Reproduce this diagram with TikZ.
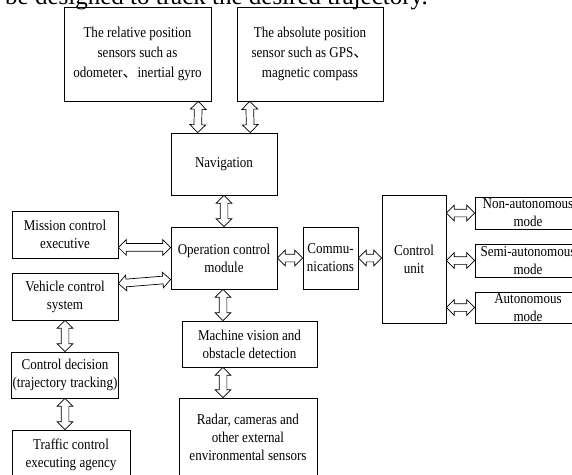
\documentclass[tikz,border=0pt]{standalone}
\usepackage{fontspec}
\setmainfont{Liberation Serif}[FakeStretch=0.87]
\newfontfamily\bodyfont{Liberation Serif}
\newfontfamily\cjk{Noto Sans CJK SC}
\usetikzlibrary{shapes.arrows,calc}

\newcommand{\biarrow}[2]{%
 \path let \p1=(#1), \p2=(#2), \n1={atan2(\y2-\y1,\x2-\x1)}, \n2={veclen(\x2-\x1,\y2-\y1)} in
  node[twoway, minimum height=\n2, rotate=\n1] at ($(\p1)!.5!(\p2)$) {};}

\begin{document}
\begin{tikzpicture}[x=1pt,y=-1pt,
  blk/.style={draw, line width=.8pt, align=center, inner sep=1pt,
    font=\fontsize{15}{18}\selectfont},
  twoway/.style={double arrow, draw, line width=.7pt, fill=white, inner sep=0pt,
    inner ysep=3.5pt, double arrow head extend=4pt, double arrow tip angle=90}]
 \useasboundingbox (0,0) rectangle (572,474);
 \node[anchor=base west, inner sep=0pt, font=\bodyfont\fontsize{25}{30}\selectfont] (cap) at (5,4.5)
  {be designed to track the desired trajectory.};

 \node[blk, minimum width=147, minimum height=94, font=\fontsize{15}{20}\selectfont] (rel) at (137.5,54)
  {The relative position\\sensors such as\\odometer{\cjk 、}inertial gyro};
 \node[blk, minimum width=146, minimum height=94, font=\fontsize{15}{20}\selectfont] (abs) at (310,54)
  {The absolute position\\sensor such as GPS{\cjk 、}\\magnetic compass};
 \node[blk, minimum width=106, minimum height=62] (nav) at (224,164) {Navigation};
 \node[blk, minimum width=106, minimum height=62] (ocm) at (224,258) {Operation control\\module};
 \node[blk, minimum width=106, minimum height=47] (mce) at (65,234.5) {Mission control\\executive};
 \node[blk, minimum width=106, minimum height=47] (vcs) at (65,296.5) {Vehicle control\\system};
 \node[blk, minimum width=106, minimum height=46] (cdt) at (65,375) {Control decision\\(trajectory tracking)};
 \node[blk, minimum width=118, minimum height=50] (tce) at (71,455) {Traffic control\\executing agency};
 \node[blk, minimum width=135, minimum height=46] (mvd) at (249.5,344) {Machine vision and\\obstacle detection};
 \node[blk, minimum width=138, minimum height=78] (rad) at (248,437)
  {Radar, cameras and\\other external\\environmental sensors};
 \node[blk, minimum width=55, minimum height=62] (com) at (330.5,258) {Commu-\\nications};
 \node[blk, minimum width=64, minimum height=128] (cu) at (414,259) {Control\\unit};
 \node[blk, minimum width=106, minimum height=32] (nam) at (528,213) {Non-autonomous\\mode};
 \node[blk, minimum width=106, minimum height=33] (sam) at (528,260.5) {Semi-autonomous\\mode};
 \node[blk, minimum width=106, minimum height=31] (aum) at (528,307.5) {Autonomous\\mode};

 \biarrow{$(rel.south east)+(-13,0)$}{$(nav.north west)+(27,0)$}
 \biarrow{$(abs.south west)+(13,0)$}{$(nav.north east)+(-27,0)$}
 \biarrow{nav.south}{ocm.north}
 \biarrow{$(mce.south east)+(0,-11)$}{$(ocm.west |- mce.south east)+(0,-11)$}
 \biarrow{$(vcs.north east)+(0,11)$}{$(ocm.south west)+(0,-10)$}
 \biarrow{ocm.east}{com.west}
 \biarrow{com.east}{com.east -| cu.west}
 \biarrow{nam.west -| cu.east}{nam.west}
 \biarrow{sam.west -| cu.east}{sam.west}
 \biarrow{aum.west -| cu.east}{aum.west}
 \biarrow{$(ocm.south)+(-1,0)$}{$(ocm.south |- mvd.north)+(-1,0)$}
 \biarrow{$(ocm.south |- mvd.south)+(-1,0)$}{$(ocm.south |- rad.north)+(-1,0)$}
 \biarrow{vcs.south}{cdt.north}
 \biarrow{cdt.south}{cdt.south |- tce.north}
\end{tikzpicture}
\end{document}
